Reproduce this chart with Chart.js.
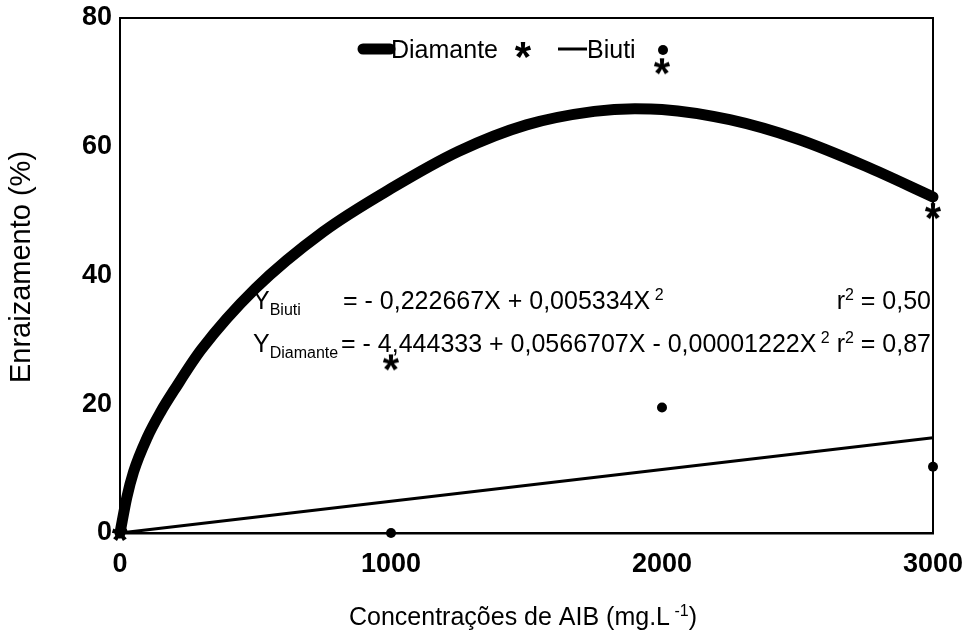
<!DOCTYPE html>
<html>
<head>
<meta charset="utf-8">
<script src="https://cdn.jsdelivr.net/npm/chart.js@4/dist/chart.umd.min.js"></script>
<style>
  html, body { margin: 0; padding: 0; background: #fff; }
  #wrap { width: 968px; height: 637px; }
</style>
</head>
<body>
<div id="wrap"><canvas id="c" width="968" height="637"></canvas></div>
<script>
// Observed rooting (%) at each IBA concentration
const doses = [0, 1000, 2000, 3000];
const diamanteObs = [0, 26.5, 72.5, 50];
const biutiObs = [0, 0, 19.5, 10.3];

// Fitted response curves
const fitX = [0, 25, 50, 100, 150, 200, 300, 500, 750, 1000, 1250, 1500, 1750, 1900, 2000, 2250, 2500, 2750, 3000];
const diamanteFit = [0, 5.5, 9.5, 14.8, 18.8, 22.2, 28.5, 38, 46.8, 53.5, 59.3, 63.4, 65.5, 65.9, 65.8, 64.2, 61.2, 57, 52.2];
const biutiFitX = [0, 3000];
const biutiFit = [0, 14.8];

// Axis ticks
const xTicks = [0, 1000, 2000, 3000];
const yTicks = [0, 20, 40, 60, 80];

const FONT = '"Liberation Sans", Arial, Helvetica, sans-serif';

function pts(xs, ys) { return xs.map((x, i) => ({ x: x, y: ys[i] })); }

// Asterisk marker rendered from the font glyph
function makeAsterisk(size, fontPx) {
  const c = document.createElement('canvas');
  c.width = size; c.height = size;
  const g = c.getContext('2d');
  g.fillStyle = '#000';
  g.font = 'bold ' + fontPx + 'px ' + FONT;
  g.textAlign = 'center';
  g.textBaseline = 'alphabetic';
  const m = g.measureText('*');
  const y = size / 2 + (m.actualBoundingBoxAscent - m.actualBoundingBoxDescent) / 2;
  g.fillText('*', size / 2, y);
  return c;
}
const asterisk = makeAsterisk(30, 42);

// Frame, legend, equations and axis titles
const annotations = {
  id: 'annotations',
  beforeDatasetsDraw(chart) {
    const { ctx, chartArea: a } = chart;
    ctx.save();
    ctx.strokeStyle = '#000';
    ctx.lineWidth = 2;
    ctx.beginPath();
    ctx.moveTo(a.left, a.top);
    ctx.lineTo(a.right, a.top);
    ctx.lineTo(a.right, a.bottom);
    ctx.stroke();
    ctx.restore();
  },
  afterDraw(chart) {
    const ctx = chart.ctx;
    ctx.save();
    ctx.fillStyle = '#000';
    ctx.strokeStyle = '#000';
    ctx.textBaseline = 'alphabetic';
    ctx.textAlign = 'left';

    // legend
    ctx.lineCap = 'round';
    ctx.lineWidth = 11;
    ctx.beginPath(); ctx.moveTo(363, 49); ctx.lineTo(390, 49); ctx.stroke();
    ctx.font = '25px ' + FONT;
    ctx.fillText('Diamante', 391, 58);
    ctx.drawImage(asterisk, 523 - 15, 50 - 15);
    ctx.lineCap = 'butt';
    ctx.lineWidth = 3;
    ctx.beginPath(); ctx.moveTo(558, 49); ctx.lineTo(587, 49); ctx.stroke();
    ctx.fillText('Biuti', 587, 58);
    ctx.beginPath(); ctx.arc(663, 50, 5, 0, Math.PI * 2); ctx.fill();

    // regression equations
    const big = '25px ' + FONT, small = '16px ' + FONT;
    function run(parts, x, base) {
      parts.forEach(p => {
        ctx.font = p[1] ? small : big;
        const dy = p[1] === 'sub' ? 6 : (p[1] === 'sup' ? -9 : 0);
        ctx.fillText(p[0], x, base + dy);
        x += ctx.measureText(p[0]).width;
      });
      return x;
    }
    run([['Y'], ['Biuti', 'sub']], 253, 309);
    run([['= - 0,222667X + 0,005334X'], [' 2', 'sup']], 343, 309);
    let w = 0;
    ctx.font = big; w += ctx.measureText('r').width + ctx.measureText(' = 0,50').width;
    ctx.font = small; w += ctx.measureText('2').width;
    run([['r'], ['2', 'sup'], [' = 0,50']], 931 - w, 309);

    run([['Y'], ['Diamante', 'sub']], 253, 352);
    run([['= - 4,444333 + 0,0566707X - 0,00001222X'], [' 2', 'sup']], 341, 352);
    run([['r'], ['2', 'sup'], [' = 0,87']], 931 - w, 352);

    // x axis title with superscript
    const t1 = 'Concentrações de AIB (mg.L', t2 = ' -1', t3 = ')';
    ctx.font = big;
    const w1 = ctx.measureText(t1).width, w3 = ctx.measureText(t3).width;
    ctx.font = small;
    const w2 = ctx.measureText(t2).width;
    run([[t1], [t2, 'sup'], [t3]], 523 - (w1 + w2 + w3) / 2, 625);

    // y axis title
    ctx.translate(22, 267);
    ctx.rotate(-Math.PI / 2);
    ctx.font = '29px ' + FONT;
    ctx.textAlign = 'center';
    ctx.textBaseline = 'middle';
    ctx.fillText('Enraizamento (%)', 0, 0);
    ctx.restore();
  }
};

new Chart(document.getElementById('c'), {
  type: 'scatter',
  data: {
    datasets: [
      {
        label: 'Diamante',
        data: pts(fitX, diamanteFit),
        showLine: true,
        borderColor: '#000',
        borderWidth: 11,
        borderCapStyle: 'round',
        borderJoinStyle: 'round',
        cubicInterpolationMode: 'monotone',
        pointRadius: 0,
        clip: false
      },
      {
        label: 'Biuti',
        data: pts(biutiFitX, biutiFit),
        showLine: true,
        borderColor: '#000',
        borderWidth: 3,
        pointRadius: 0,
        clip: false
      },
      {
        label: 'Diamante (observado)',
        data: pts(doses, diamanteObs),
        pointStyle: asterisk,
        pointRadius: 10,
        clip: false
      },
      {
        label: 'Biuti (observado)',
        data: pts(doses, biutiObs),
        pointStyle: 'circle',
        pointRadius: 5,
        backgroundColor: '#000',
        borderColor: '#000',
        borderWidth: 0,
        clip: false
      }
    ]
  },
  options: {
    responsive: false,
    animation: false,
    devicePixelRatio: 1,
    layout: { padding: { left: 0, right: 35, top: 18, bottom: 0 } },
    plugins: { legend: { display: false }, tooltip: { enabled: false } },
    scales: {
      x: {
        type: 'linear',
        min: 0, max: 3000,
        grid: { display: false, drawTicks: false },
        border: { display: true, color: '#000', width: 2.5 },
        ticks: {
          color: '#000', padding: 15, maxRotation: 0,
          font: { family: FONT, size: 27, weight: 'bold' },
          callback: v => String(v)
        },
        afterBuildTicks: s => { s.ticks = xTicks.map(v => ({ value: v })); },
        afterFit: s => { s.height = 104; s.paddingLeft = 0; s.paddingRight = 0; }
      },
      y: {
        type: 'linear',
        min: 0, max: 80,
        grid: { display: false, drawTicks: false },
        border: { display: true, color: '#000', width: 2 },
        ticks: {
          color: '#000', padding: 8,
          font: { family: FONT, size: 27, weight: 'bold' },
          callback: v => String(v)
        },
        afterBuildTicks: s => { s.ticks = yTicks.map(v => ({ value: v })); },
        afterFit: s => { s.width = 120; s.paddingTop = 0; s.paddingBottom = 0; }
      }
    }
  },
  plugins: [annotations]
});
</script>
</body>
</html>
